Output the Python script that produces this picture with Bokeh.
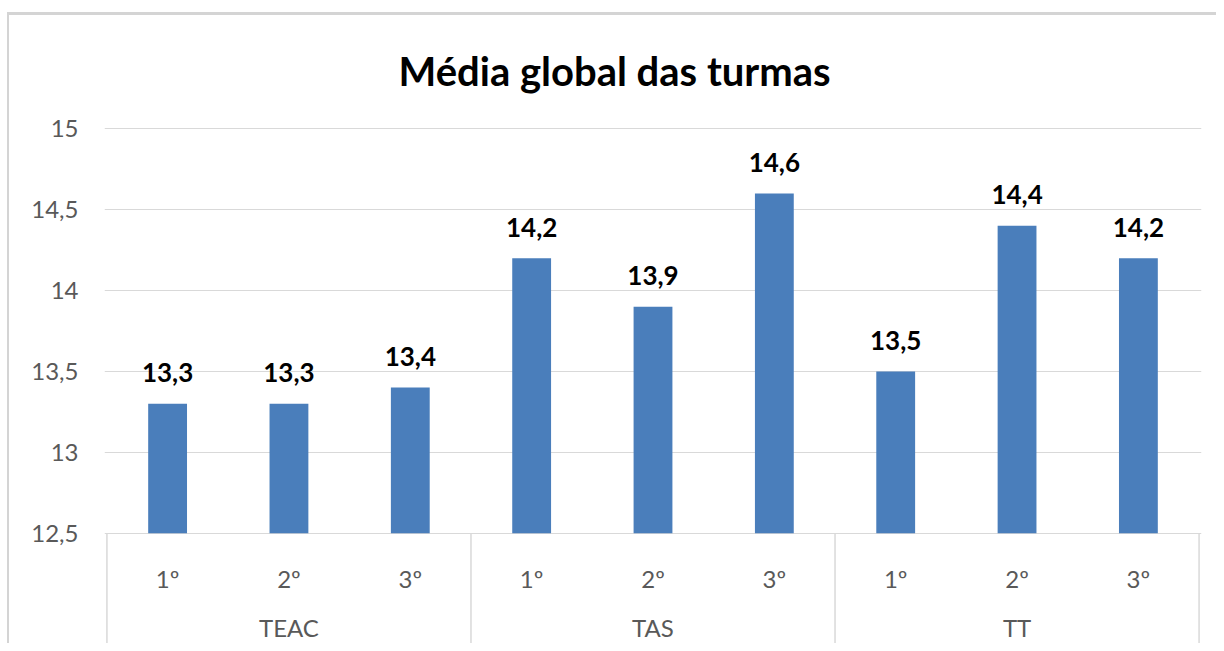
from bokeh.plotting import figure
from bokeh.models import FactorRange, ColumnDataSource, FixedTicker, Range1d, CustomJSTickFormatter
from bokeh.core.properties import value
from bokeh.embed import file_html
from bokeh.resources import INLINE

# ---- data ----
chart_title = "Média global das turmas"
groups = ["TEAC", "TAS", "TT"]
years = ["1º", "2º", "3º"]
values = [13.3, 13.3, 13.4, 14.2, 13.9, 14.6, 13.5, 14.4, 14.2]
y_ticks = [12.5, 13, 13.5, 14, 14.5, 15]
y_tick_labels = ["12,5", "13", "13,5", "14", "14,5", "15"]
y_min = 12.5

factors = [(g, y) for g in groups for y in years]
value_labels = [f"{v:.1f}".replace(".", ",") for v in values]

FONT = "Lato"
GRID = "#d9d9d9"
TXT = "#595959"
FRAME_LINE = "#d4d4d4"

x_range = FactorRange(*factors, factor_padding=0, group_padding=0,
                      range_padding=0.02, range_padding_units="absolute")
y_range = Range1d(11.818, 15.051)

W, H = 1216, 643
p = figure(x_range=x_range, y_range=y_range, width=W, height=H,
           output_backend="svg", toolbar_location=None,
           min_border_left=104, min_border_right=15, min_border_top=120,
           min_border_bottom=0, x_axis_location=None, title=chart_title)
# light chart-area frame (top and left edges), painted behind a transparent canvas
p.styles = {
    "background": (
        f"linear-gradient({FRAME_LINE},{FRAME_LINE}) 7px 12px / {W - 7}px 3px no-repeat, "
        f"linear-gradient({FRAME_LINE},{FRAME_LINE}) 7px 12px / 2px {H - 12}px no-repeat, white"
    )
}
p.outline_line_color = None
p.background_fill_color = "white"
p.border_fill_color = None

p.title.text_font = FONT
p.title.text_font_size = "40px"
p.title.text_font_style = "bold"
p.title.text_color = "#000000"
p.title.align = "left"
p.title.offset = 294
p.title.standoff = 52

p.yaxis.ticker = FixedTicker(ticks=y_ticks)
p.yaxis.formatter = CustomJSTickFormatter(
    args=dict(tick_vals=y_ticks, tick_labels=y_tick_labels),
    code="const i = tick_vals.indexOf(tick); return i >= 0 ? tick_labels[i] : String(tick);")
p.yaxis.axis_line_color = None
p.yaxis.major_tick_line_color = None
p.yaxis.minor_tick_line_color = None
p.yaxis.major_tick_out = 0
p.yaxis.major_tick_in = 0
p.yaxis.major_label_standoff = 26
p.yaxis.major_label_text_font = FONT
p.yaxis.major_label_text_font_size = "24px"
p.yaxis.major_label_text_color = TXT

p.ygrid.ticker = FixedTicker(ticks=y_ticks)
p.ygrid.grid_line_color = GRID
p.ygrid.grid_line_width = 1
p.xgrid.visible = False

src = ColumnDataSource(dict(x=factors, top=values, label=value_labels))
p.vbar(x="x", top="top", bottom=y_min, width=0.32, source=src,
       fill_color="#4A7EBB", line_color=None)

p.text(x="x", y="top", text="label", source=src, text_align="center",
       text_baseline="alphabetic", y_offset=-31, text_font=value(FONT),
       text_font_style="bold", text_font_size="26px", text_color="#000000")

# category axis (two levels)
p.text(x=factors, y=[y_min] * len(factors), text=[f[1] for f in factors],
       text_align="center", text_baseline="middle", y_offset=45,
       text_font=value(FONT), text_font_size="24px", text_color=TXT)
p.text(x=[(g, years[len(years) // 2]) for g in groups], y=[y_min] * len(groups),
       text=groups, text_align="center", text_baseline="middle", y_offset=94,
       text_font=value(FONT), text_font_size="24px", text_color=TXT)

bounds = [i * len(years) for i in range(len(groups) + 1)]
p.segment(x0=bounds, y0=[y_min] * len(bounds), x1=bounds,
          y1=[y_range.start] * len(bounds), line_color=GRID, line_width=1.5)

open("out.html", "w").write(file_html(p, INLINE))
